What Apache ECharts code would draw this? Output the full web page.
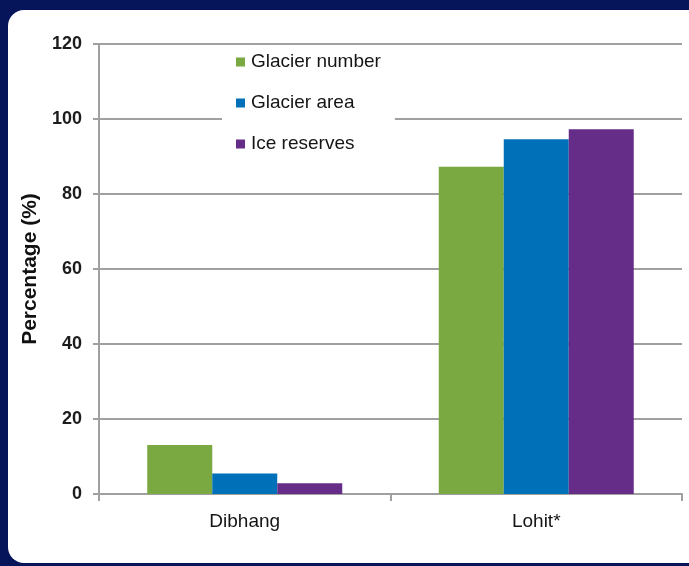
<!DOCTYPE html>
<html>
<head>
<meta charset="utf-8">
<script src="https://cdn.jsdelivr.net/npm/echarts@6/dist/echarts.min.js"></script>
<style>
html,body{margin:0;padding:0;background:#06155a;}
#c{width:689px;height:566px;}
</style>
</head>
<body>
<div id="c"></div>
<script>
var categories = ['Dibhang', 'Lohit*'];
var seriesNames = ['Glacier number', 'Glacier area', 'Ice reserves'];
var glacierNumber = [13.1, 87.3];
var glacierArea = [5.5, 94.6];
var iceReserves = [2.9, 97.3];
var yTicks = [0, 20, 40, 60, 80, 100, 120];
var colors = ['#79a940', '#0070b9', '#662d88'];

var chart = echarts.init(document.getElementById('c'), null, {renderer: 'canvas'});
var seriesData = [glacierNumber, glacierArea, iceReserves];
var font = 'Liberation Sans, Arial, sans-serif';
chart.setOption({
  backgroundColor: '#06155a',
  animation: false,
  graphic: [{
    type: 'rect', z: -10, silent: true,
    shape: {x: 8, y: 10, width: 720, height: 553, r: 16},
    style: {fill: '#ffffff'}
  }],
  grid: {left: 99, right: 7, top: 44, bottom: 72},
  legend: {
    orient: 'vertical',
    left: 222, top: 46,
    padding: [6, 14, 6, 14],
    backgroundColor: '#ffffff',
    itemWidth: 9, itemHeight: 9, itemGap: 21,
    icon: 'rect',
    data: seriesNames,
    textStyle: {fontFamily: font, fontSize: 19, color: '#151515', lineHeight: 20, padding: [0, 0, 0, 1]}
  },
  xAxis: {
    type: 'category',
    data: categories,
    axisLine: {lineStyle: {color: '#a0a0a0', width: 2}},
    axisTick: {show: true, length: 7, lineStyle: {color: '#a0a0a0', width: 2}},
    axisLabel: {fontFamily: font, fontSize: 19, color: '#151515', margin: 18}
  },
  yAxis: {
    type: 'value',
    min: 0, max: 120, interval: 20,
    name: 'Percentage (%)',
    nameLocation: 'middle',
    nameGap: 57,
    nameTextStyle: {fontFamily: font, fontSize: 21, fontWeight: 'bold', color: '#111'},
    axisLine: {show: true, lineStyle: {color: '#a0a0a0', width: 2}},
    axisTick: {show: true, length: 6, lineStyle: {color: '#a0a0a0', width: 2}},
    splitLine: {lineStyle: {color: '#a0a0a0', width: 2}},
    axisLabel: {fontFamily: font, fontSize: 18, fontWeight: 'bold', color: '#1c1c1c', margin: 17,
      formatter: function (v) { return yTicks.indexOf(v) >= 0 ? String(v) : ''; }}
  },
  series: seriesNames.map(function (n, i) {
    return {
      name: n, type: 'bar', data: seriesData[i],
      itemStyle: {color: colors[i]},
      barWidth: 65, barGap: '0%', z: 1
    };
  })
});
</script>
</body>
</html>
